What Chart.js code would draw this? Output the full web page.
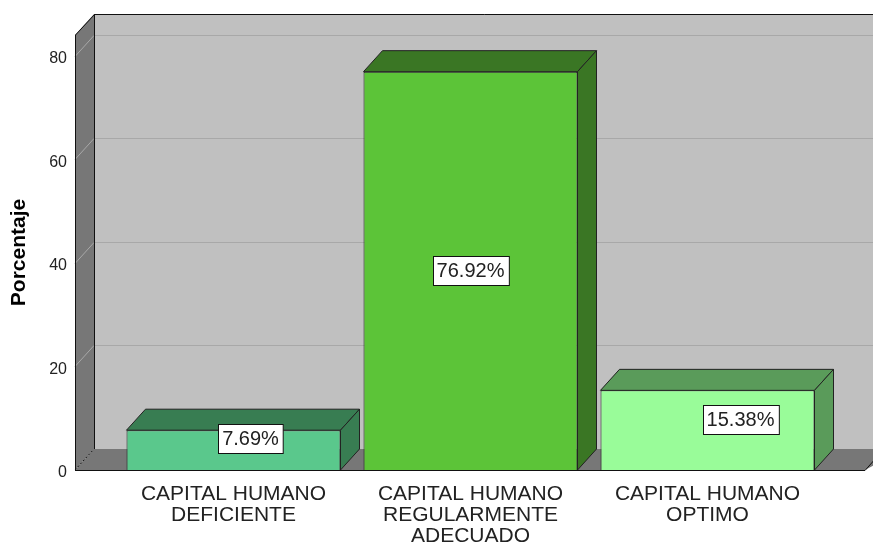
<!DOCTYPE html>
<html>
<head>
<meta charset="utf-8">
<script src="https://cdn.jsdelivr.net/npm/chart.js@4/dist/chart.umd.min.js"></script>
<style>
  html, body { margin: 0; padding: 0; background: #fff; }
  canvas { display: block; }
</style>
</head>
<body>
<canvas id="barChart" width="873" height="544"></canvas>
<script>
// categorias (eje x) y porcentajes
const labels = [
  ['CAPITAL HUMANO', 'DEFICIENTE'],
  ['CAPITAL HUMANO', 'REGULARMENTE', 'ADECUADO'],
  ['CAPITAL HUMANO', 'OPTIMO']
];
const percents = [7.69, 76.92, 15.38];
const valueLabels = ['7.69%', '76.92%', '15.38%'];
const yTicks = [0, 20, 40, 60, 80];

// colores: cara frontal y caras de arriba / lado
const frontColors = ['#5ac88c', '#5cc438', '#99fc99'];
const shadeColors = ['#387d52', '#3a7624', '#5a9b5a'];

document.addEventListener('DOMContentLoaded', function() {

  const DX = 19, DY = 21; // profundidad 3D
  const labelShift = [[17, -12], [0, 0], [33, -11]]; // etiquetas movidas como en SPSS

  function poly(ctx, pts, fill, stroke) {
    ctx.beginPath();
    ctx.moveTo(pts[0][0], pts[0][1]);
    for (let i = 1; i < pts.length; i++) ctx.lineTo(pts[i][0], pts[i][1]);
    ctx.closePath();
    if (fill) { ctx.fillStyle = fill; ctx.fill(); }
    if (stroke) { ctx.strokeStyle = stroke; ctx.lineWidth = 1; ctx.stroke(); }
  }

  const box3d = {
    id: 'box3d',
    beforeDatasetsDraw: function(chart) {
      const ctx = chart.ctx;
      const ca = chart.chartArea;
      const ys = chart.scales.y;
      const fl = ca.left - 40, fr = ca.right + 39, ft = ca.top, fb = ca.bottom;
      ctx.save();
      // pared del fondo
      ctx.fillStyle = '#c0c0c0';
      ctx.fillRect(fl + DX, ft - DY, fr - fl + 20, fb - ft);
      // pared izquierda
      poly(ctx, [[fl, ft], [fl + DX, ft - DY], [fl + DX, fb - DY], [fl, fb]], '#777777');
      // piso
      poly(ctx, [[fl, fb], [fl + DX, fb - DY], [fr + DX + 20, fb - DY], [fr, fb]], '#777777');
      // lineas de grilla
      ctx.strokeStyle = '#a8a8a8';
      ctx.lineWidth = 1;
      yTicks.forEach(function(v) {
        if (v === 0) return;
        const yp = Math.round(ys.getPixelForValue(v)) + 0.5;
        ctx.beginPath();
        ctx.moveTo(fl, yp);
        ctx.lineTo(fl + DX, yp - DY);
        ctx.lineTo(fr + DX + 20, yp - DY);
        ctx.stroke();
      });
      // bordes
      ctx.strokeStyle = '#111';
      ctx.beginPath();
      ctx.moveTo(fl + 0.5, fb);
      ctx.lineTo(fl + 0.5, ft);
      ctx.lineTo(fl + DX + 0.5, ft - DY + 0.5);
      ctx.lineTo(fr + DX + 20, ft - DY + 0.5);
      ctx.moveTo(fl + DX + 0.5, ft - DY);
      ctx.lineTo(fl + DX + 0.5, fb - DY);
      ctx.moveTo(fl, fb + 0.5);
      ctx.lineTo(fr, fb + 0.5);
      ctx.lineTo(fr + DX, fb - DY);
      ctx.stroke();
      ctx.setLineDash([2, 2]);
      ctx.beginPath();
      ctx.moveTo(fl, fb);
      ctx.lineTo(fl + DX, fb - DY);
      ctx.stroke();
      ctx.restore();
    },
    afterDatasetsDraw: function(chart) {
      const ctx = chart.ctx;
      const meta = chart.getDatasetMeta(0);
      ctx.save();
      meta.data.forEach(function(bar, i) {
        const p = bar.getProps(['x', 'y', 'base', 'width'], true);
        const l = p.x - p.width / 2, r = p.x + p.width / 2;
        // cara de arriba y cara lateral
        poly(ctx, [[l, p.y], [l + DX, p.y - DY], [r + DX, p.y - DY], [r, p.y]], shadeColors[i], '#222');
        poly(ctx, [[r, p.y], [r + DX, p.y - DY], [r + DX, p.base - DY], [r, p.base]], shadeColors[i], '#222');
      });
      // etiquetas con caja blanca
      ctx.font = '20px "Liberation Sans", Arial, sans-serif';
      ctx.textAlign = 'center';
      ctx.textBaseline = 'middle';
      meta.data.forEach(function(bar, i) {
        const p = bar.getProps(['x', 'y', 'base'], true);
        const cx = p.x + labelShift[i][0];
        const cy = (p.y + p.base) / 2 + labelShift[i][1];
        const w = ctx.measureText(valueLabels[i]).width + 8;
        const h = 29;
        const bx = Math.round(cx - w / 2) + 0.5, by = Math.round(cy - h / 2) + 0.5;
        ctx.fillStyle = '#fff';
        ctx.fillRect(bx, by, w, h);
        ctx.strokeStyle = '#111';
        ctx.lineWidth = 1;
        ctx.strokeRect(bx, by, w, h);
        ctx.fillStyle = '#222';
        ctx.fillText(valueLabels[i], cx, cy + 1);
      });
      ctx.restore();
    }
  };

  const ctxBar = document.querySelector('#barChart').getContext('2d');
  new Chart(ctxBar, {
    type: 'bar',
    data: {
      labels: labels,
      datasets: [{
        data: percents,
        backgroundColor: frontColors,
        borderColor: '#222',
        borderWidth: 1,
        barPercentage: 1,
        categoryPercentage: 0.903
      }]
    },
    plugins: [box3d],
    options: {
      responsive: false,
      animation: false,
      events: [],
      layout: { padding: { top: 35, right: 47, bottom: 0, left: 0 } },
      plugins: {
        legend: { display: false },
        tooltip: { enabled: false }
      },
      scales: {
        x: {
          grid: { display: false },
          border: { display: false },
          afterFit: function(scale) { scale.height = 74; },
          ticks: {
            color: '#222',
            padding: 6,
            maxRotation: 0,
            autoSkip: false,
            font: { family: '"Liberation Sans", Arial, sans-serif', size: 21, lineHeight: 1.0 }
          }
        },
        y: {
          min: 0,
          max: 84,
          grid: { display: false, drawTicks: false },
          border: { display: false },
          afterBuildTicks: function(scale) {
            scale.ticks = yTicks.map(function(v) { return { value: v }; });
          },
          afterFit: function(scale) {
            scale.width = 115;
            // el padding de los ticks no debe empujar el area hacia abajo
            scale.paddingTop = 0;
            scale.paddingBottom = 0;
          },
          ticks: {
            color: '#222',
            padding: 48,
            labelOffset: 3,
            font: { family: '"Liberation Sans", Arial, sans-serif', size: 16 }
          },
          title: {
            display: true,
            text: 'Porcentaje',
            color: '#000',
            padding: { top: 7, bottom: 0 },
            font: { family: '"Liberation Sans", Arial, sans-serif', size: 21, weight: 'bold', lineHeight: 1.2 }
          }
        }
      }
    }
  });

});
</script>
</body>
</html>
